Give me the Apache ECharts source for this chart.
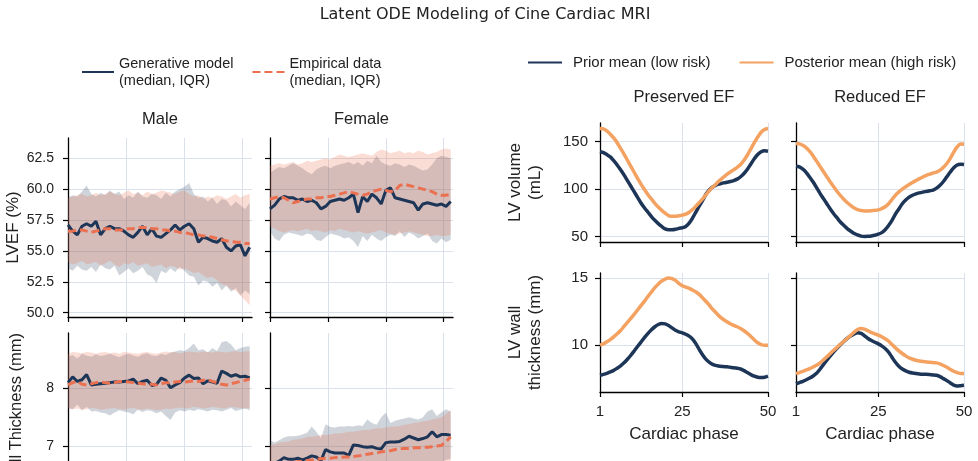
<!DOCTYPE html>
<html><head><meta charset="utf-8">
<script src="https://cdn.jsdelivr.net/npm/echarts@6/dist/echarts.min.js"></script>
<style>html,body{margin:0;padding:0;background:#fff}#c{width:978px;height:461px}</style>
</head><body><div id="c"></div>
<script>
// ---------- data ----------
const sampleIdx = [0,1,2,3,4,5,6,7,8,9,10,11,12,13,14,15,16,17,18,19,20,21,22,23,24,25,26,27,28,29,30,31,32,33,34,35,36,37,38,39];
const cardiacPhase = [1,2,3,4,5,6,7,8,9,10,11,12,13,14,15,16,17,18,19,20,21,22,23,24,25,26,27,28,29,30,31,32,33,34,35,36,37,38,39,40,41,42,43,44,45,46,47,48,49,50];

const maleEfGenMed = [57.1,56.6,56.3,57.0,57.2,57.0,57.4,56.3,56.8,57.0,56.8,56.8,56.6,56.3,56.1,56.5,57.0,56.3,56.8,56.2,56.1,56.4,56.7,57.1,56.7,57.0,57.2,56.8,55.7,56.1,56.0,55.8,55.7,56.0,55.3,55.0,55.4,55.5,54.6,55.3];
const maleEfGenQ1 = [53.6,53.4,53.8,53.5,53.4,53.7,53.3,53.9,53.6,53.5,53.8,53.0,53.3,53.6,53.2,53.4,53.7,53.1,52.9,52.4,53.4,53.2,53.6,53.3,53.7,53.4,53.0,52.9,52.2,52.6,52.5,52.1,52.4,51.8,52.2,51.7,52.0,51.4,51.8,51.5];
const maleEfGenQ3 = [59.3,59.5,59.4,59.8,60.3,59.6,59.4,59.7,59.5,59.9,59.6,59.8,59.2,59.5,59.3,59.8,59.4,59.3,59.6,59.5,59.2,59.7,59.4,59.8,60.0,60.2,60.5,59.6,59.3,59.4,59.0,59.3,58.8,59.2,59.1,58.6,59.0,58.7,58.4,58.9];
const maleEfEmpMed = [56.6,56.6,56.7,56.7,56.6,56.5,56.6,56.7,56.8,56.8,56.7,56.7,56.7,56.8,56.8,56.9,56.9,56.9,56.8,56.8,56.7,56.7,56.6,56.6,56.5,56.5,56.4,56.3,56.3,56.2,56.2,56.1,56.0,55.9,55.8,55.8,55.7,55.7,55.6,55.6];
const maleEfEmpQ1 = [54.1,53.9,54.0,54.2,53.9,54.0,54.1,53.8,54.0,54.2,53.9,53.7,54.0,53.9,54.1,53.8,53.9,54.0,53.7,53.8,53.9,53.6,53.8,53.7,53.5,53.6,53.4,53.2,53.3,53.0,52.8,52.9,52.6,52.3,52.2,51.9,51.8,51.4,51.0,50.6];
const maleEfEmpQ3 = [59.3,59.4,59.5,59.6,59.4,59.5,59.7,59.5,59.6,59.8,59.6,59.5,59.7,59.9,59.6,59.7,59.5,59.8,59.6,59.7,59.9,59.8,59.7,59.6,59.8,59.9,59.6,59.4,59.5,59.2,59.4,59.3,59.5,59.4,59.2,59.4,59.6,59.3,59.5,59.6];

const femaleEfGenMed = [58.4,58.7,59.2,59.4,59.3,59.3,59.1,59.2,59.0,59.1,58.9,58.4,58.6,59.0,59.1,59.2,59.1,59.3,59.6,58.1,59.4,59.0,59.6,59.3,58.8,59.9,60.1,59.3,59.2,59.1,59.0,58.9,58.3,58.8,58.9,58.8,58.7,58.8,58.6,59.0];
const femaleEfGenQ1 = [56.6,56.0,55.8,56.3,56.5,56.4,56.3,56.2,56.4,56.3,55.9,55.8,56.1,56.4,56.3,56.2,56.0,56.1,55.8,55.3,56.2,55.8,56.3,56.0,55.8,56.1,56.3,56.2,56.6,56.1,56.5,56.3,56.0,56.2,56.4,55.8,55.6,56.0,55.7,55.9];
const femaleEfGenQ3 = [61.3,61.6,61.8,61.7,61.9,62.1,61.9,61.7,61.4,61.2,61.6,61.8,61.9,61.7,61.9,62.0,62.1,62.2,62.0,62.2,61.9,62.3,62.1,62.7,62.2,62.0,61.9,62.1,62.0,61.8,62.0,61.9,61.7,61.5,61.6,62.0,62.5,62.7,62.6,62.5];
const femaleEfEmpMed = [59.2,59.3,59.4,59.3,59.1,58.9,59.0,59.1,59.2,59.2,59.3,59.3,59.4,59.4,59.5,59.6,59.7,59.8,59.7,59.6,59.5,59.6,59.8,59.9,60.0,59.9,59.8,59.9,60.3,60.4,60.3,60.2,60.1,60.0,59.9,59.8,59.6,59.5,59.5,59.6];
const femaleEfEmpQ1 = [57.0,56.8,56.6,56.5,56.6,56.7,56.6,56.7,56.8,56.6,56.7,56.6,56.5,56.7,56.6,56.8,56.7,56.6,56.5,56.6,56.5,56.4,56.5,56.6,56.7,56.5,56.4,56.3,56.4,56.5,56.6,56.5,56.4,56.3,56.2,56.2,56.3,56.2,56.2,56.3];
const femaleEfEmpQ3 = [61.9,62.0,62.1,62.0,62.1,62.2,62.0,62.1,62.3,62.2,62.3,62.4,62.5,62.4,62.6,62.8,62.7,62.6,62.7,62.8,62.9,62.8,62.7,63.0,63.2,63.1,62.9,63.0,63.1,62.9,63.0,62.9,63.1,63.0,62.8,62.9,63.0,63.2,63.3,63.2];

const maleWtGenMed = [8.10,8.20,8.12,8.15,8.24,8.06,8.07,8.08,8.09,8.10,8.11,8.11,8.12,8.13,8.16,8.08,8.12,8.14,8.05,8.07,8.18,8.14,8.01,8.06,8.10,8.18,8.23,8.17,8.18,8.08,8.13,8.11,8.09,8.30,8.26,8.21,8.24,8.20,8.21,8.18];
const maleWtGenQ1 = [7.66,7.64,7.72,7.62,7.68,7.60,7.61,7.58,7.57,7.53,7.58,7.62,7.60,7.58,7.55,7.63,7.59,7.62,7.61,7.57,7.60,7.52,7.45,7.58,7.62,7.60,7.63,7.61,7.64,7.62,7.60,7.63,7.62,7.60,7.63,7.66,7.61,7.63,7.65,7.62];
const maleWtGenQ3 = [8.55,8.58,8.52,8.60,8.57,8.55,8.59,8.56,8.58,8.60,8.57,8.54,8.58,8.60,8.57,8.55,8.59,8.61,8.57,8.56,8.60,8.58,8.62,8.64,8.66,8.65,8.70,8.78,8.66,8.68,8.62,8.70,8.65,8.80,8.82,8.76,8.66,8.70,8.72,8.73];
const maleWtEmpMed = [8.06,8.10,8.12,8.07,8.06,8.08,8.10,8.11,8.10,8.09,8.10,8.12,8.12,8.11,8.10,8.09,8.08,8.07,8.07,8.06,8.08,8.10,8.09,8.11,8.12,8.11,8.12,8.13,8.12,8.14,8.15,8.12,8.10,8.07,8.06,8.08,8.10,8.12,8.14,8.16];
const maleWtEmpQ1 = [7.66,7.64,7.65,7.63,7.64,7.66,7.65,7.63,7.64,7.65,7.66,7.64,7.63,7.65,7.66,7.64,7.63,7.65,7.64,7.62,7.63,7.65,7.64,7.66,7.67,7.65,7.66,7.68,7.67,7.65,7.66,7.68,7.67,7.65,7.66,7.68,7.67,7.66,7.65,7.67];
const maleWtEmpQ3 = [8.60,8.63,8.62,8.61,8.63,8.62,8.60,8.62,8.63,8.61,8.62,8.60,8.63,8.62,8.61,8.60,8.62,8.63,8.61,8.60,8.62,8.64,8.62,8.63,8.61,8.62,8.64,8.63,8.62,8.64,8.63,8.62,8.64,8.63,8.62,8.64,8.65,8.63,8.64,8.65];

const femaleWtGenMed = [6.68,6.70,6.74,6.80,6.77,6.77,6.79,6.76,6.79,6.83,6.81,6.75,6.94,6.90,6.88,6.88,6.88,6.84,7.02,7.01,6.99,6.98,6.99,6.96,6.95,7.06,7.07,7.07,7.08,7.12,7.17,7.14,7.11,7.13,7.16,7.25,7.16,7.20,7.20,7.19];
const femaleWtGenQ1 = [6.22,6.20,6.25,6.28,6.27,6.30,6.32,6.30,6.35,6.38,6.36,6.40,6.42,6.41,6.44,6.46,6.45,6.48,6.50,6.49,6.52,6.54,6.53,6.56,6.58,6.57,6.60,6.62,6.61,6.64,6.66,6.65,6.68,6.70,6.69,6.72,6.74,6.73,6.76,6.78];
const femaleWtGenQ3 = [7.10,7.06,7.10,7.15,7.17,7.17,7.18,7.20,7.23,7.34,7.25,7.14,7.38,7.33,7.32,7.34,7.34,7.35,7.34,7.36,7.35,7.46,7.40,7.37,7.50,7.58,7.40,7.44,7.46,7.48,7.50,7.48,7.46,7.50,7.60,7.64,7.52,7.58,7.64,7.60];
const femaleWtEmpMed = [6.68,6.69,6.70,6.71,6.72,6.72,6.73,6.74,6.75,6.76,6.77,6.78,6.79,6.79,6.80,6.80,6.81,6.81,6.82,6.83,6.84,6.86,6.87,6.88,6.90,6.91,6.92,6.94,6.95,6.96,6.96,6.97,6.97,6.98,6.98,6.99,7.00,7.01,7.08,7.16];
const femaleWtEmpQ1 = [6.10,6.12,6.13,6.15,6.16,6.18,6.19,6.21,6.22,6.24,6.25,6.27,6.28,6.30,6.31,6.33,6.34,6.35,6.37,6.38,6.40,6.41,6.42,6.44,6.45,6.46,6.48,6.49,6.50,6.52,6.53,6.54,6.55,6.57,6.58,6.59,6.60,6.62,6.63,6.64];
const femaleWtEmpQ3 = [7.02,7.03,7.06,7.07,7.08,7.11,7.12,7.13,7.16,7.16,7.17,7.19,7.19,7.20,7.22,7.22,7.23,7.25,7.25,7.26,7.28,7.28,7.29,7.31,7.31,7.32,7.34,7.34,7.35,7.37,7.38,7.40,7.41,7.43,7.44,7.46,7.48,7.50,7.56,7.62];

const presVolPrior = [139.5,138.5,136.5,134,130,125.5,120.5,115,109,103,97,91,85,80,75.5,71,67,63.5,60.5,58,57,57,57.5,58.5,59.2,60.5,64,69.5,76,82.5,88.5,95,99.5,102.5,104.5,105.5,106.5,107.3,108,109,110.5,113,116.5,121,126.5,132,136.5,139.5,140.5,140];
const presVolPost = [164,163.5,161.5,158,154,149,143,137,130.5,124,117.5,111,105,99.5,94,89.5,85,81,77.5,74.5,72,71.2,71.2,71.8,72.5,73.5,75.5,78.5,82,86,90,94.5,98.8,102.5,106,109.5,112.5,115.5,118,120.5,123,126,130.5,136,142.5,149,155,160,163,164];
const redVolPrior = [124.2,123.5,121,117.5,112.5,107.5,101.5,95.5,90,84.5,79,74,69.5,65,61.5,58,55.5,53,51.5,50.3,50,50.1,50.5,51.2,52.3,54,57,61.5,67,73.5,79,84.5,88.5,91.5,93.5,95,96,96.8,97.5,98.2,99,101,104,108,113,118,122.5,125.5,126.3,126];
const redVolPost = [148.2,147.8,146.2,143.5,139.8,135,129.5,124,118.5,113,107.5,102.5,97.5,93,89,85.5,82.5,80,78.2,77.3,76.9,76.9,77.2,77.5,78,79.3,81.3,84.5,89,93.5,97,100,102.5,104.8,107,109,111,112.8,114.5,115.8,117,118,120,123,127,132.5,139,144.5,147.5,147.4];
const presWtPrior = [7.75,7.82,7.9,8.0,8.12,8.28,8.45,8.68,8.95,9.25,9.58,9.92,10.25,10.58,10.88,11.15,11.38,11.55,11.63,11.6,11.48,11.3,11.12,11.0,10.92,10.82,10.68,10.45,10.1,9.65,9.25,8.92,8.7,8.55,8.47,8.42,8.4,8.38,8.35,8.32,8.28,8.22,8.1,7.95,7.8,7.68,7.6,7.58,7.6,7.68];
const presWtPost = [10.0,10.1,10.25,10.42,10.62,10.85,11.1,11.4,11.7,12.0,12.32,12.65,12.98,13.3,13.65,13.98,14.3,14.58,14.8,14.95,15.02,14.98,14.85,14.62,14.45,14.35,14.25,14.12,13.98,13.78,13.52,13.25,12.95,12.65,12.38,12.12,11.92,11.75,11.6,11.48,11.38,11.25,11.08,10.88,10.65,10.4,10.18,10.05,10.0,10.0];
const redWtPrior = [7.1,7.2,7.3,7.42,7.55,7.7,7.9,8.2,8.55,8.88,9.2,9.5,9.78,10.05,10.3,10.52,10.7,10.85,10.93,10.88,10.7,10.5,10.35,10.22,10.1,9.95,9.75,9.48,9.1,8.72,8.42,8.22,8.08,7.98,7.92,7.88,7.85,7.83,7.82,7.8,7.78,7.75,7.65,7.5,7.35,7.18,7.02,6.95,6.97,7.0];
const redWtPost = [7.88,7.95,8.05,8.15,8.25,8.37,8.5,8.68,8.9,9.13,9.38,9.62,9.85,10.08,10.3,10.52,10.75,10.98,11.18,11.25,11.2,11.08,10.95,10.85,10.75,10.63,10.48,10.3,10.05,9.8,9.58,9.38,9.2,9.05,8.95,8.87,8.82,8.78,8.75,8.72,8.7,8.68,8.6,8.48,8.35,8.2,8.05,7.95,7.88,7.88];

const sampleTicks = [0,12.5,25,37.5];
const efTicks = [50,52.5,55,57.5,60,62.5];
const wtTicks = [6,7,8];
const volTicks = [50,100,150];
const thickTicks = [10,15];
const phaseTicks = [1,25,50];

const GEN = 'Generative model\n(median, IQR)';
const EMP = 'Empirical data\n(median, IQR)';
const PRIOR = 'Prior mean (low risk)';
const POST = 'Posterior mean (high risk)';

// ---------- style ----------
const NAVY = '#1d3557', CORAL = '#ea7050', ORANGE = '#f4a261';
const GRIDC = '#dbe1ea', TXT = '#222';
const FONT = 'Liberation Sans, Arial, sans-serif';

const grids = [
  {left:68, top:138, width:184, height:179},
  {left:270, top:138, width:183, height:179},
  {left:68, top:333, width:184, height:177},
  {left:270, top:333, width:183, height:177},
  {left:600, top:123, width:168, height:119},
  {left:796, top:123, width:168, height:119},
  {left:600, top:273, width:168, height:119},
  {left:796, top:273, width:168, height:119}
].map(g => Object.assign(g, {outerBoundsMode:'none', containLabel:false}));

function axisBase(gi, min, max, ticks, showLabel, fmt, fs, margin) {
  return {
    type:'value', gridIndex:gi, min:min, max:max,
    axisLine:{show:true, onZero:false, lineStyle:{color:'#000', width:1.3}},
    axisTick:{show:true, length:5, customValues:ticks, lineStyle:{color:'#000', width:1.2}},
    axisLabel:{show:showLabel, customValues:ticks, formatter:fmt, fontSize:fs, color:TXT, fontFamily:FONT, margin:margin},
    splitLine:{show:true, lineStyle:{color:GRIDC, width:1}}
  };
}
const f1 = v => v.toFixed(1);
const f0 = v => String(v);
const nameStyle = {fontSize:17, color:TXT, fontFamily:FONT, lineHeight:20};

const xAxes = [
  axisBase(0, 0, 39.5, sampleTicks, false, f0, 14, 8),
  axisBase(1, 0, 39.5, sampleTicks, false, f0, 14, 8),
  axisBase(2, 0, 39.5, sampleTicks, false, f0, 14, 8),
  axisBase(3, 0, 39.5, sampleTicks, false, f0, 14, 8),
  axisBase(4, 1, 50, phaseTicks, false, f0, 15, 12),
  axisBase(5, 1, 50, phaseTicks, false, f0, 15, 12),
  Object.assign(axisBase(6, 1, 50, phaseTicks, true, f0, 15, 12), {name:'Cardiac phase', nameLocation:'middle', nameGap:32, nameTextStyle:nameStyle}),
  Object.assign(axisBase(7, 1, 50, phaseTicks, true, f0, 15, 12), {name:'Cardiac phase', nameLocation:'middle', nameGap:32, nameTextStyle:nameStyle})
];
const yAxes = [
  Object.assign(axisBase(0, 49.65, 64.14, efTicks, true, f1, 14, 14), {name:'LVEF (%)', nameLocation:'middle', nameGap:42, nameRotate:90, nameTextStyle:nameStyle}),
  axisBase(1, 49.65, 64.14, efTicks, false, f1, 14, 14),
  Object.assign(axisBase(2, 5.892, 8.96, wtTicks, true, f0, 14, 14), {name:'LV Wall Thickness (mm)', nameLocation:'middle', nameGap:42, nameRotate:90, nameTextStyle:Object.assign({}, nameStyle, {fontSize:16.5})}),
  axisBase(3, 5.892, 8.96, wtTicks, false, f0, 14, 14),
  Object.assign(axisBase(4, 44.1, 169.8, volTicks, true, f0, 15, 12), {name:'LV volume\n(mL)', nameLocation:'middle', nameGap:55, nameRotate:90, nameTextStyle:nameStyle}),
  axisBase(5, 44.1, 169.8, volTicks, false, f0, 15, 12),
  Object.assign(axisBase(6, 6.5, 15.4, thickTicks, true, f0, 15, 12), {name:'LV wall\nthickness (mm)', nameLocation:'middle', nameGap:55, nameRotate:90, nameTextStyle:nameStyle}),
  axisBase(7, 6.5, 15.4, thickTicks, false, f0, 15, 12)
];

function pairs(xs, ys) { return ys.map((v, i) => [xs[i], v]); }

const series = [];
function band(gi, q1, q3, color) {
  series.push({
    type:'custom', xAxisIndex:gi, yAxisIndex:gi, silent:true, z:1, clip:true,
    data:[[sampleIdx[0], q1[0]]],
    renderItem: function (params, api) {
      const pts = [];
      for (let i = 0; i < q3.length; i++) pts.push(api.coord([sampleIdx[i], q3[i]]));
      for (let i = q1.length - 1; i >= 0; i--) pts.push(api.coord([sampleIdx[i], q1[i]]));
      return {type:'polygon', shape:{points:pts}, style:{fill:color, stroke:null}};
    }
  });
}
function median(gi, arr, name, color, dashed) {
  series.push({type:'line', name:name, xAxisIndex:gi, yAxisIndex:gi, data:pairs(sampleIdx, arr),
    symbol:'none', z:3, itemStyle:{color:color},
    lineStyle:{color:color, width:3, type: dashed ? [8,4] : 'solid'}});
}
const GENBAND = 'rgba(29,53,87,0.21)', EMPBAND = 'rgba(234,112,80,0.24)';
const leftPanels = [
  [maleEfGenQ1, maleEfGenQ3, maleEfGenMed, maleEfEmpQ1, maleEfEmpQ3, maleEfEmpMed],
  [femaleEfGenQ1, femaleEfGenQ3, femaleEfGenMed, femaleEfEmpQ1, femaleEfEmpQ3, femaleEfEmpMed],
  [maleWtGenQ1, maleWtGenQ3, maleWtGenMed, maleWtEmpQ1, maleWtEmpQ3, maleWtEmpMed],
  [femaleWtGenQ1, femaleWtGenQ3, femaleWtGenMed, femaleWtEmpQ1, femaleWtEmpQ3, femaleWtEmpMed]
];
leftPanels.forEach((p, gi) => {
  band(gi, p[0], p[1], GENBAND);
  band(gi, p[3], p[4], EMPBAND);
});
leftPanels.forEach((p, gi) => {
  median(gi, p[2], GEN, NAVY, false);
  median(gi, p[5], EMP, CORAL, true);
});
const rightPanels = [
  [presVolPrior, presVolPost], [redVolPrior, redVolPost],
  [presWtPrior, presWtPost], [redWtPrior, redWtPost]
];
rightPanels.forEach((p, k) => {
  const gi = 4 + k;
  series.push({type:'line', name:PRIOR, xAxisIndex:gi, yAxisIndex:gi, data:pairs(cardiacPhase, p[0]),
    symbol:'none', smooth:0.3, itemStyle:{color:NAVY}, lineStyle:{color:NAVY, width:3.5}, z:3});
  series.push({type:'line', name:POST, xAxisIndex:gi, yAxisIndex:gi, data:pairs(cardiacPhase, p[1]),
    symbol:'none', smooth:0.3, itemStyle:{color:ORANGE}, lineStyle:{color:ORANGE, width:3.5}, z:3});
});

function label(x, y, text, size, family) {
  return {type:'text', x:x, y:y, silent:true, style:{text:text, fontSize:size, fontFamily:family || FONT, fill:TXT, align:'center', verticalAlign:'middle'}};
}

const option = {
  animation:false,
  backgroundColor:'#fff',
  grid:grids,
  xAxis:xAxes,
  yAxis:yAxes,
  series:series,
  legend:[
    {data:[GEN, EMP], left:81, top:55, padding:0, itemWidth:32, itemHeight:14, itemGap:18,
     itemStyle:{opacity:0},
     textStyle:{fontSize:14.5, lineHeight:17, color:TXT, fontFamily:FONT}},
    {data:[PRIOR, POST], left:527, top:55, padding:0, itemWidth:34, itemHeight:14, itemGap:28,
     itemStyle:{opacity:0},
     textStyle:{fontSize:15, color:TXT, fontFamily:FONT, padding:[0,0,0,6]}}
  ],
  graphic:[
    label(485, 15, 'Latent ODE Modeling of Cine Cardiac MRI', 16, 'DejaVu Sans'),
    label(160, 119, 'Male', 16.5),
    label(361.5, 119, 'Female', 16.5),
    label(684, 97, 'Preserved EF', 16.5),
    label(880, 97, 'Reduced EF', 16.5)
  ]
};
const chart = echarts.init(document.getElementById('c'), null, {renderer:'canvas'});
chart.setOption(option);
</script>
</body></html>
